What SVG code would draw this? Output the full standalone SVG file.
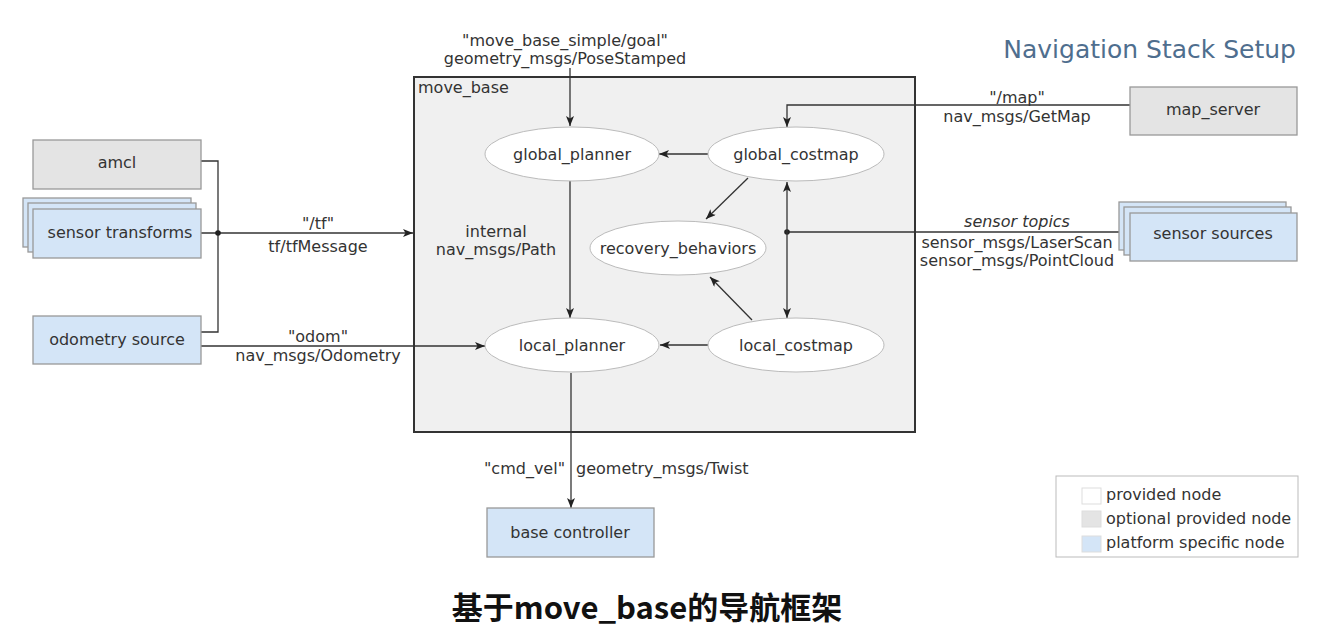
<svg xmlns="http://www.w3.org/2000/svg" width="1340" height="631" viewBox="0 0 1340 631">
<defs>
<marker id="ah" viewBox="0 0 10 8" refX="10" refY="4" markerWidth="10" markerHeight="8" markerUnits="userSpaceOnUse" orient="auto-start-reverse">
<path d="M0,0 L10,4 L0,8 L2.5,4 z" fill="#222"/>
</marker>
<style>
text{font-family:"DejaVu Sans","Liberation Sans",sans-serif;font-size:16px;fill:#333}
.c{text-anchor:middle}
.gray{fill:#e4e4e4;stroke:#999;stroke-width:1.3}
.blue{fill:#d4e5f7;stroke:#999;stroke-width:1.3}
.ell{fill:#fff;stroke:#bbb;stroke-width:1}
.e{fill:none;stroke:#333;stroke-width:1.3}
.ea{fill:none;stroke:#333;stroke-width:1.3;marker-end:url(#ah)}
</style>
</defs>
<rect width="1340" height="631" fill="#fff"/>
<text x="1296" y="58" style="font-size:25px;fill:#4f6e8e;text-anchor:end">Navigation Stack Setup</text>
<g id="move_base">
<rect x="414" y="77" width="501" height="355" fill="#f0f0f0" stroke="#333" stroke-width="2"/>
<text x="418" y="93">move_base</text>
</g>
<g id="connectors">
<polyline class="e" points="201,161 218,161 218,332 201,332"/>
<line class="ea" x1="201" y1="233" x2="413" y2="233"/>
<circle cx="218" cy="233" r="2.8" fill="#222"/>
<line class="ea" x1="201" y1="346" x2="485" y2="346"/>
<line class="ea" x1="570" y1="68" x2="570" y2="126"/>
<polyline class="ea" points="1130,105 787,105 787,127"/>
<line class="e" x1="1120" y1="232" x2="787" y2="232"/>
<circle cx="787" cy="232" r="2.8" fill="#222"/>
<line class="ea" x1="787" y1="182" x2="787" y2="318" style="marker-start:url(#ah)"/>
<line class="ea" x1="708" y1="154" x2="659" y2="154"/>
<line class="ea" x1="748" y1="178" x2="706" y2="219"/>
<line class="ea" x1="752" y1="320" x2="710" y2="277"/>
<line class="ea" x1="709" y1="345" x2="660" y2="345"/>
<line class="ea" x1="570" y1="181" x2="570" y2="318"/>
<line class="ea" x1="571" y1="373" x2="571" y2="508"/>
</g>
<g id="labels">
<text class="c" x="318" y="229">"/tf"</text>
<text class="c" x="318" y="252">tf/tfMessage</text>
<text class="c" x="318" y="342">"odom"</text>
<text class="c" x="318" y="361">nav_msgs/Odometry</text>
<text class="c" x="565" y="46">"move_base_simple/goal"</text>
<text class="c" x="565" y="64">geometry_msgs/PoseStamped</text>
<text class="c" x="1017" y="103">"/map"</text>
<text class="c" x="1017" y="122">nav_msgs/GetMap</text>
<text class="c" x="1017" y="227" font-style="italic">sensor topics</text>
<text class="c" x="1017" y="248">sensor_msgs/LaserScan</text>
<text class="c" x="1017" y="266">sensor_msgs/PointCloud</text>
<text class="c" x="496" y="237">internal</text>
<text class="c" x="496" y="255">nav_msgs/Path</text>
<text x="565" y="474" style="text-anchor:end">"cmd_vel"</text>
<text x="576" y="474">geometry_msgs/Twist</text>
</g>
<g id="amcl"><rect class="gray" x="33" y="140" width="168" height="49"/><text class="c" x="117" y="168">amcl</text></g>
<g id="sensor_transforms">
<rect class="blue" x="23" y="198" width="168" height="49"/>
<rect class="blue" x="28" y="203" width="168" height="49"/>
<rect class="blue" x="33" y="209" width="168" height="49"/>
<text class="c" x="120" y="238">sensor transforms</text>
</g>
<g id="odometry_source"><rect class="blue" x="33" y="316" width="168" height="48"/><text class="c" x="117" y="345">odometry source</text></g>
<g id="global_planner"><ellipse class="ell" cx="572" cy="154" rx="87" ry="27"/><text class="c" x="572" y="160">global_planner</text></g>
<g id="global_costmap"><ellipse class="ell" cx="796" cy="154" rx="88" ry="27"/><text class="c" x="796" y="160">global_costmap</text></g>
<g id="recovery_behaviors"><ellipse class="ell" cx="678" cy="248" rx="88" ry="27"/><text class="c" x="678" y="254">recovery_behaviors</text></g>
<g id="local_planner"><ellipse class="ell" cx="572" cy="345" rx="87" ry="27"/><text class="c" x="572" y="351">local_planner</text></g>
<g id="local_costmap"><ellipse class="ell" cx="796" cy="345" rx="88" ry="27"/><text class="c" x="796" y="351">local_costmap</text></g>
<g id="map_server"><rect class="gray" x="1130" y="87" width="167" height="48"/><text class="c" x="1213" y="115">map_server</text></g>
<g id="sensor_sources">
<rect class="blue" x="1119" y="202" width="167" height="48"/>
<rect class="blue" x="1124" y="207" width="167" height="48"/>
<rect class="blue" x="1130" y="213" width="167" height="48"/>
<text class="c" x="1213" y="239">sensor sources</text>
</g>
<g id="base_controller"><rect class="blue" x="487" y="508" width="167" height="49"/><text class="c" x="570" y="538">base controller</text></g>
<g id="legend">
<rect x="1056" y="476" width="242" height="81" fill="#fff" stroke="#bbb" stroke-width="1"/>
<rect x="1082" y="488" width="19" height="16" fill="#fff" stroke="#ddd"/>
<rect x="1082" y="511" width="19" height="16" fill="#e4e4e4" stroke="#ddd"/>
<rect x="1082" y="536" width="19" height="16" fill="#d4e5f7" stroke="#ddd"/>
<text x="1106" y="500">provided node</text>
<text x="1106" y="524">optional provided node</text>
<text x="1106" y="548">platform specific node</text>
</g>
<text x="647" y="619" style="font-family:'Noto Sans CJK SC',sans-serif;font-weight:bold;font-size:31px;fill:#111;text-anchor:middle">基于move_base的导航框架</text>
</svg>
